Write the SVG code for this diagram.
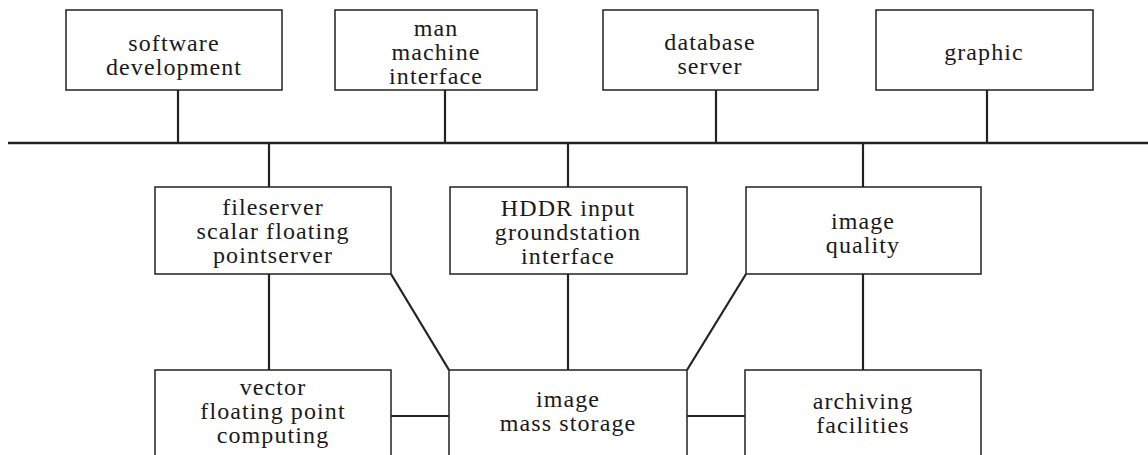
<svg xmlns="http://www.w3.org/2000/svg" width="1148" height="455" viewBox="0 0 1148 455">
<style>
.box{fill:#fff;stroke:#222;stroke-width:1.5}
.t{font-family:"Liberation Serif","Times New Roman",serif;font-size:24px;letter-spacing:1.1px;fill:#1a1a1a;text-anchor:middle}
.c{stroke:#222;stroke-width:2.2;fill:none}
.bus{stroke:#222;stroke-width:2.6;fill:none}
</style>
<rect width="1148" height="455" fill="#fff"/>
<g id="connectors">
<line class="bus" x1="8" y1="143" x2="1148" y2="143"/>
<line class="c" x1="178" y1="90" x2="178" y2="143"/>
<line class="c" x1="445" y1="90" x2="445" y2="143"/>
<line class="c" x1="716" y1="90" x2="716" y2="143"/>
<line class="c" x1="987" y1="90" x2="987" y2="143"/>
<line class="c" x1="269" y1="143" x2="269" y2="187"/>
<line class="c" x1="568" y1="143" x2="568" y2="187"/>
<line class="c" x1="863" y1="143" x2="863" y2="187"/>
<line class="c" x1="269" y1="274" x2="269" y2="370"/>
<line class="c" x1="568" y1="274" x2="568" y2="370"/>
<line class="c" x1="863" y1="274" x2="863" y2="370"/>
<line class="c" x1="391" y1="274" x2="449" y2="370"/>
<line class="c" x1="746" y1="274" x2="687" y2="370"/>
<line class="c" x1="391" y1="416" x2="449" y2="416"/>
<line class="c" x1="687" y1="416" x2="745" y2="416"/>
</g>
<g id="software-development">
<rect class="box" x="66" y="10" width="216" height="80"/>
<text class="t" x="174" y="51">software</text>
<text class="t" x="174" y="75">development</text>
</g>
<g id="man-machine-interface">
<rect class="box" x="335" y="10" width="202" height="80"/>
<text class="t" x="436" y="36">man</text>
<text class="t" x="436" y="60">machine</text>
<text class="t" x="436" y="84">interface</text>
</g>
<g id="database-server">
<rect class="box" x="603" y="10" width="215" height="80"/>
<text class="t" x="710" y="50">database</text>
<text class="t" x="710" y="74">server</text>
</g>
<g id="graphic">
<rect class="box" x="876" y="10" width="217" height="80"/>
<text class="t" x="984" y="60">graphic</text>
</g>
<g id="fileserver">
<rect class="box" x="155" y="187" width="236" height="87"/>
<text class="t" x="273" y="215">fileserver</text>
<text class="t" x="273" y="239">scalar floating</text>
<text class="t" x="273" y="263">pointserver</text>
</g>
<g id="hddr-input">
<rect class="box" x="450" y="187" width="237" height="87"/>
<text class="t" x="568" y="216">HDDR input</text>
<text class="t" x="568" y="240">groundstation</text>
<text class="t" x="568" y="264">interface</text>
</g>
<g id="image-quality">
<rect class="box" x="746" y="187" width="235" height="87"/>
<text class="t" x="863" y="229">image</text>
<text class="t" x="863" y="253">quality</text>
</g>
<g id="vector-computing">
<rect class="box" x="155" y="370" width="236" height="100"/>
<text class="t" x="273" y="395">vector</text>
<text class="t" x="273" y="419">floating point</text>
<text class="t" x="273" y="443">computing</text>
</g>
<g id="image-mass-storage">
<rect class="box" x="449" y="370" width="238" height="100"/>
<text class="t" x="568" y="407">image</text>
<text class="t" x="568" y="431">mass storage</text>
</g>
<g id="archiving-facilities">
<rect class="box" x="745" y="370" width="236" height="100"/>
<text class="t" x="863" y="409">archiving</text>
<text class="t" x="863" y="433">facilities</text>
</g>
</svg>
